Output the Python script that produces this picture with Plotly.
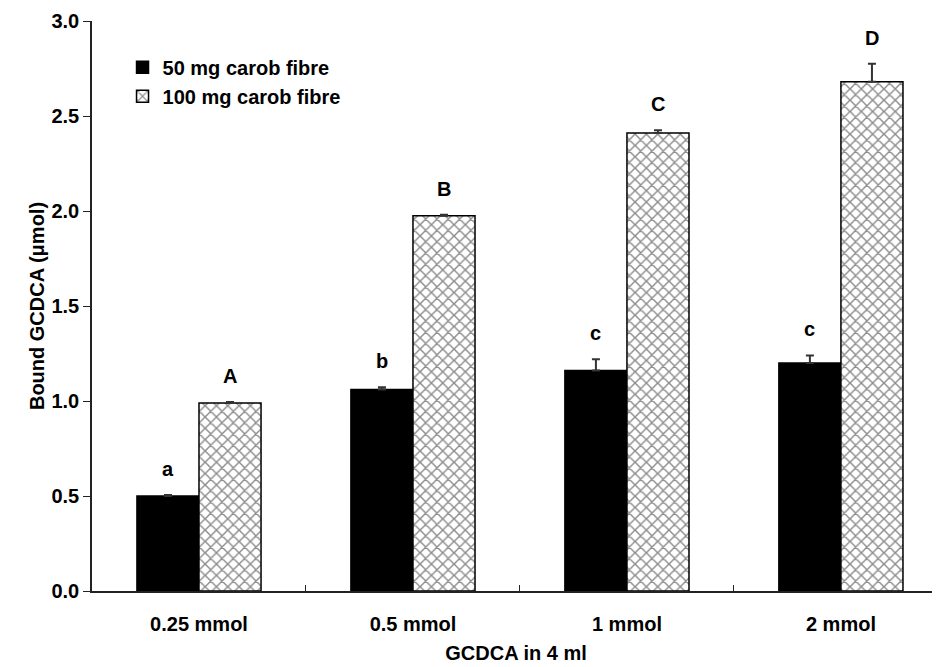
import plotly.graph_objects as go

categories = ["0.25 mmol", "0.5 mmol", "1 mmol", "2 mmol"]
series_names = ["50 mg carob fibre", "100 mg carob fibre"]
values_50 = [0.50, 1.06, 1.16, 1.20]
errors_50 = [0.005, 0.012, 0.06, 0.04]
values_100 = [0.99, 1.975, 2.41, 2.68]
errors_100 = [0.005, 0.005, 0.015, 0.095]
letters_50 = ["a", "b", "c", "c"]
letters_100 = ["A", "B", "C", "D"]
y_ticks = [0.0, 0.5, 1.0, 1.5, 2.0, 2.5, 3.0]

FONT = dict(family="Liberation Sans, Arial, Helvetica, sans-serif", size=20, color="black", weight="bold")
BAR_W = 0.29

fig = go.Figure()
fig.add_trace(go.Bar(
    x=categories, y=values_50, name=series_names[0],
    marker=dict(color="black", line=dict(color="black", width=1.5)),
    error_y=dict(type="data", array=errors_50, arrayminus=[0] * 4, symmetric=False,
                 color="#333333", thickness=2, width=4),
))
fig.add_trace(go.Bar(
    x=categories, y=values_100, name=series_names[1],
    marker=dict(color="white", line=dict(color="black", width=1.5),
                pattern=dict(shape="x", size=8, solidity=0.33, fgcolor="#1a1a1a",
                             bgcolor="white", fillmode="overlay")),
    error_y=dict(type="data", array=errors_100, arrayminus=[0] * 4, symmetric=False,
                 color="#333333", thickness=2, width=4),
))

for i in range(len(categories)):
    for off, val, err, lab in ((-BAR_W / 2, values_50[i], errors_50[i], letters_50[i]),
                               (BAR_W / 2, values_100[i], errors_100[i], letters_100[i])):
        fig.add_annotation(x=i + off, y=val + err, xref="x", yref="y", text=lab,
                           showarrow=False, yanchor="bottom", yshift=13, font=FONT)

fig.update_layout(
    width=932, height=659,
    margin=dict(l=84, r=0, t=13, b=76),
    paper_bgcolor="white", plot_bgcolor="white",
    barmode="group", bargap=0.42, bargroupgap=0,
    font=FONT,
    showlegend=True,
    legend=dict(x=0.036, y=0.953, xanchor="left", yanchor="top",
                bgcolor="rgba(0,0,0,0)", font=FONT, itemwidth=30),
    xaxis=dict(type="category", range=[-0.5, 3.463], showline=True, linecolor="#222222",
               linewidth=1.5, ticks="inside", tickson="boundaries", ticklen=6,
               tickcolor="#222222", tickwidth=1, ticklabelstandoff=14,
               title=dict(text="GCDCA in 4 ml", font=FONT, standoff=12),
               showgrid=False, zeroline=False),
    yaxis=dict(range=[0, 3.0], tickvals=y_ticks, tickformat=".1f", showline=True,
               linecolor="#222222", linewidth=1.5, ticks="outside", ticklen=7,
               tickcolor="#222222", tickwidth=1,
               title=dict(text="Bound GCDCA (μmol)", font=FONT, standoff=1),
               showgrid=False, zeroline=False),
)

fig.write_html("out.html")
